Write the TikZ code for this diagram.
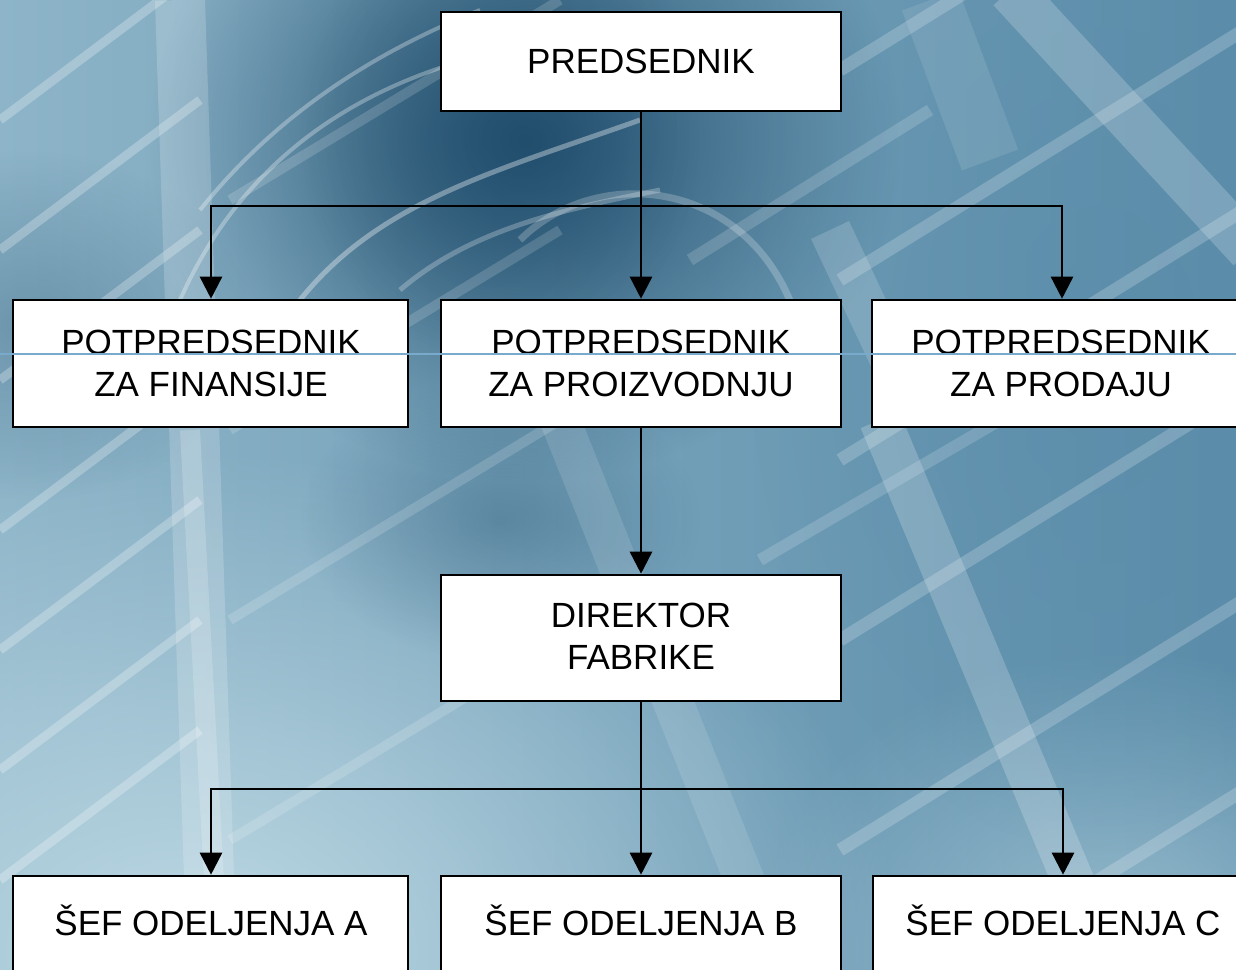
\documentclass[tikz,border=0pt]{standalone}
\usepackage{fontspec}
\setmainfont{Liberation Sans}
\usetikzlibrary{arrows.meta,fadings}
\definecolor{bgleft}{HTML}{8DB4C8}
\definecolor{bgright}{HTML}{5B8DAA}
\definecolor{bgdark}{HTML}{214E6D}
\definecolor{bgpale}{HTML}{BCD8E3}
\definecolor{rule}{HTML}{79AACB}
\tikzfading[name=softspot,inner color=transparent!0,outer color=transparent!100]
\begin{document}
\begin{tikzpicture}[x=1pt,y=-1pt,
  box/.style={draw=black,line width=2.6pt,fill=white,minimum width=400pt,inner sep=0pt},
  lbl/.style={align=center,font=\fontsize{35}{42}\selectfont,inner sep=0pt},
  link/.style={line width=2.6pt,draw=black},
  tip/.style={-{Triangle[width=22pt,length=22pt]}},
  blob/.style={path fading=softspot},
  streak/.style={white,line cap=butt}]
  \useasboundingbox (0,0) rectangle (1236,969);
  % backdrop: soft blue field with light bands
  \begin{scope}
    \clip (0,0) rectangle (1236,969);
    \shade[left color=bgleft,right color=bgright] (0,0) rectangle (1236,969);
    \fill[bgpale,blob,opacity=1] (-500,450) rectangle (900,1450);
    \fill[bgpale,blob,opacity=0.6] (750,650) rectangle (1500,1250);
    \fill[bgdark,blob,opacity=1] (150,-200) rectangle (900,480);
    \fill[bgdark,blob,opacity=0.5] (300,-100) rectangle (700,360);
    \fill[bgdark,blob,opacity=0.3] (-200,150) rectangle (250,500);
    \fill[bgdark,blob,opacity=0.35] (300,380) rectangle (700,660);
    \fill[bgright,blob,opacity=0.7] (750,-150) rectangle (1450,850);
    % wide bands
    \draw[streak,line width=50pt,opacity=0.18] (180,0) -- (212,969);
    \draw[streak,line width=20pt,opacity=0.18] (190,430) -- (215,900);
    \draw[streak,line width=42pt,opacity=0.2] (880,420) -- (1110,969);
    \draw[streak,line width=42pt,opacity=0.16] (830,230) -- (910,400);
    \draw[streak,line width=45pt,opacity=0.2] (1010,-10) -- (1250,250);
    \draw[streak,line width=60pt,opacity=0.1] (930,0) -- (990,160);
    \draw[streak,line width=40pt,opacity=0.12] (560,420) -- (780,969);
    % thin bands rising to the right
    \foreach \y in {120,250,380,530,650,770,880}
      \draw[streak,line width=9pt,opacity=0.26] (0,\y) -- ++(200,-150);
    \foreach \y in {200,430,620,840}
      \draw[streak,line width=10pt,opacity=0.16] (230,\y) -- ++(330,-200);
    \foreach \y in {70,280,460,640,850,1040}
      \draw[streak,line width=13pt,opacity=0.2] (840,\y) -- ++(420,-260);
    \draw[streak,line width=12pt,opacity=0.16] (690,260) -- (930,110);
    \draw[streak,line width=12pt,opacity=0.16] (760,560) -- (1000,420);
    % arcs in the upper left
    \draw[streak,line width=4pt,opacity=0.3] (180,300) .. controls (260,120) and (420,60) .. (560,40);
    \draw[streak,line width=4pt,opacity=0.3] (200,210) .. controls (280,110) and (380,50) .. (480,10);
    \draw[streak,line width=5pt,opacity=0.35] (300,300) .. controls (380,200) and (500,170) .. (640,120);
    \draw[streak,line width=5pt,opacity=0.25] (400,290) .. controls (470,230) and (560,210) .. (660,190);
    \draw[streak,line width=7pt,opacity=0.22] (520,240) .. controls (600,160) and (760,180) .. (800,330);
  \end{scope}
  % boxes
  \node[box,minimum height=99pt]  (pres) at (641,61.5) {};
  \node[box,minimum height=127pt,minimum width=395pt] (fin) at (210.5,363.5) {};
  \node[box,minimum height=127pt] (proi) at (641,363.5) {};
  \node[box,minimum height=127pt,minimum width=396pt] (prod) at (1070,363.5) {};
  \node[box,minimum height=126pt] (dir) at (641,638) {};
  \node[box,minimum height=126pt,minimum width=395pt] (sa) at (210.5,939) {};
  \node[box,minimum height=126pt] (sb) at (641,939) {};
  \node[box,minimum height=126pt,minimum width=396pt] (sc) at (1071,939) {};
  % labels (base anchor sits on the last line)
  \node[lbl,anchor=base] (pres-t) at (641,73) {PREDSEDNIK};
  \node[lbl,anchor=base] (fin-t) at (211,396) {POTPREDSEDNIK\\ZA FINANSIJE};
  \node[lbl,anchor=base] (proi-t) at (641,396) {POTPREDSEDNIK\\ZA PROIZVODNJU};
  \node[lbl,anchor=base] (prod-t) at (1061,396) {POTPREDSEDNIK\\ZA PRODAJU};
  \node[lbl,anchor=base] (dir-t) at (641,669) {DIREKTOR\\FABRIKE};
  \node[lbl,anchor=base] (sa-t) at (211,935) {ŠEF ODELJENJA A};
  \node[lbl,anchor=base] (sb-t) at (641,935) {ŠEF ODELJENJA B};
  \node[lbl,anchor=base] (sc-t) at (1063,935) {ŠEF ODELJENJA C};
  % connectors
  \coordinate (b1) at (641,206);
  \coordinate (b2) at (641,789);
  \draw[link] (pres.south) -- (b1);
  \draw[link,tip] (b1) -| (fin.north -| 211,0);
  \draw[link,tip] (b1) -| (prod.north -| 1062,0);
  \draw[link,tip] (b1) -- (proi.north);
  \draw[link,tip] (proi.south) -- (dir.north);
  \draw[link] (dir.south) -- (b2);
  \draw[link,tip] (b2) -| (sa.north -| 211,0);
  \draw[link,tip] (b2) -| (sc.north -| 1063,0);
  \draw[link,tip] (b2) -- (sb.north);
  % thin rule across the picture
  \draw[rule,line width=1.2pt] (0,354) -- (1236,354);
\end{tikzpicture}
\end{document}
